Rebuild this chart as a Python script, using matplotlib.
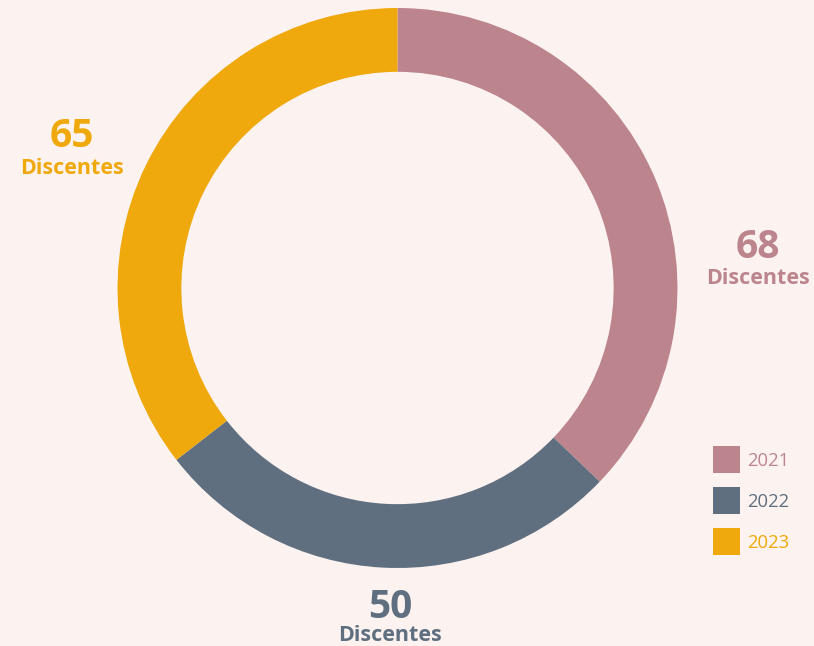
import matplotlib
matplotlib.use("Agg")
import matplotlib.pyplot as plt
from matplotlib.patches import Rectangle

years = ["2021", "2022", "2023"]
values = [68, 50, 65]
colors = ["#BC858D", "#5F6F80", "#F0A90C"]
unit = "Discentes"

bg = "#FCF3F0"
W, H = 814, 646
fig = plt.figure(figsize=(W / 100, H / 100), dpi=100, facecolor=bg)
ax = fig.add_axes([0, 0, 1, 1])
ax.set_facecolor(bg)

cx, cy, R = 397.5, H - 288, 280
wedges, _ = ax.pie(values, colors=colors, startangle=90, counterclock=False,
                   center=(cx, cy), radius=R, frame=True,
                   wedgeprops=dict(width=R * 0.228, linewidth=0))
ax.set_xlim(0, W)
ax.set_ylim(0, H)
ax.set_aspect("equal")
ax.axis("off")

fam = ["Open Sans", "DejaVu Sans"]
# (x centre, baseline of number, baseline of unit) in pixels from top
label_pos = [(758, 258, 284), (390, 618, 641), (72, 147, 174)]
for v, c, (x, y1, y2) in zip(values, colors, label_pos):
    ax.text(x, H - y1, str(v), color=c, fontsize=28, fontweight="bold",
            ha="center", va="baseline", family=fam)
    ax.text(x, H - y2, unit, color=c, fontsize=15.5, fontweight="bold",
            ha="center", va="baseline", family=fam)

# legend
lx, ly0, sq, step = 713, 446, 26.5, 41
for i, (yr, c) in enumerate(zip(years, colors)):
    top = ly0 + i * step
    ax.add_patch(Rectangle((lx, H - top - sq), sq, sq, facecolor=c, edgecolor="none"))
    ax.text(lx + sq + 8, H - top - sq / 2 - 2, yr, color=c, fontsize=13.3,
            ha="left", va="center", family=fam)

fig.savefig("out.png", dpi=100, facecolor=bg)
